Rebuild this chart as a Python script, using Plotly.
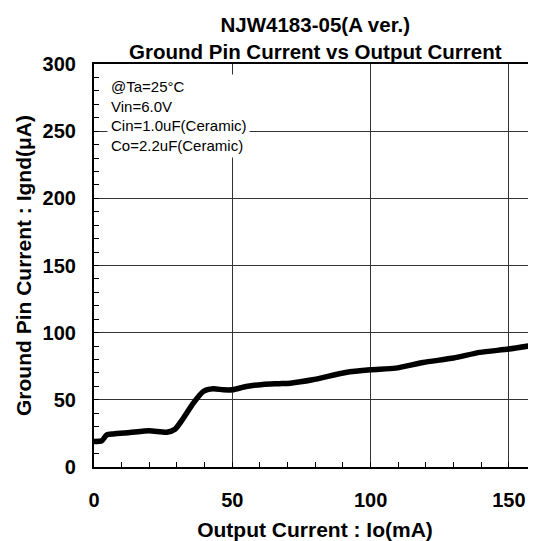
import plotly.graph_objects as go

# Data
output_current_mA = [0, 2.8, 4.6, 7, 13, 20, 26.3, 29.3, 32.3, 35.9, 39.5, 43.1, 46.7,
                     50, 55, 61, 67, 71, 79, 91, 100, 109, 119, 130, 139.5, 150, 160]
ground_current_uA = [19, 19.5, 23.9, 24.6, 25.6, 26.9, 25.9, 28.1, 36.3, 47.5, 56.2, 58.2, 57.5,
                     57.5, 59.9, 61.5, 62, 62.4, 64.9, 70.4, 72.4, 73.6, 77.8, 81.1, 85.3, 87.8, 91]

x_ticks = [0, 50, 100, 150]
y_ticks = [0, 50, 100, 150, 200, 250, 300]

title_lines = ["NJW4183-05(A ver.)", "Ground Pin Current vs Output Current"]
conditions = ["@Ta=25°C", "Vin=6.0V", "Cin=1.0uF(Ceramic)", "Co=2.2uF(Ceramic)"]
x_title = "Output Current : Io(mA)"
y_title = "Ground Pin Current : Ignd(μA)"

FONT = "Liberation Sans, Arial, sans-serif"
W, H = 528, 533

fig = go.Figure()
fig.add_trace(go.Scatter(
    x=output_current_mA, y=ground_current_uA, mode="lines",
    line=dict(color="black", width=5.5, shape="spline", smoothing=0.6),
    showlegend=False, hoverinfo="skip"))

axis_common = dict(
    showgrid=True, gridcolor="#333333", gridwidth=1.3,
    showline=True, linecolor="black", linewidth=2.2,
    zeroline=False, ticks="inside", ticklen=5, tickcolor="black", tickwidth=1.3,
    tickfont=dict(family=FONT, size=20, color="black", weight="bold"),
    minor=dict(dtick=10, ticks="inside", ticklen=5, tickcolor="black", tickwidth=1.3, showgrid=False),
)

fig.update_xaxes(**axis_common, range=[0, 159.8], tickvals=x_ticks, mirror=True,
                 ticklabelstandoff=14,
                 title=dict(text=x_title, font=dict(family=FONT, size=21, color="black", weight="bold"),
                            standoff=12))
fig.update_yaxes(**axis_common, range=[0, 300], tickvals=y_ticks, mirror=False,
                 ticklabelstandoff=12,
                 title=dict(text=y_title, font=dict(family=FONT, size=21, color="black", weight="bold"),
                            standoff=5))

fig.add_annotation(
    xref="paper", yref="paper", x=0.029, y=0.975, xanchor="left", yanchor="top",
    text="<br>".join(conditions), showarrow=False, align="left",
    font=dict(family=FONT, size=15, color="black"),
    bgcolor="white", borderpad=3)

fig.update_layout(
    width=W, height=H,
    margin=dict(l=86, r=0, t=56, b=74),
    paper_bgcolor="white", plot_bgcolor="white",
    title=dict(text="<br>".join(title_lines), x=0.582, xanchor="center",
               yref="container", y=1 - 24 / H, yanchor="middle",
               font=dict(family=FONT, size=20.5, color="black", weight="bold")),
)

fig.write_html("out.html")
